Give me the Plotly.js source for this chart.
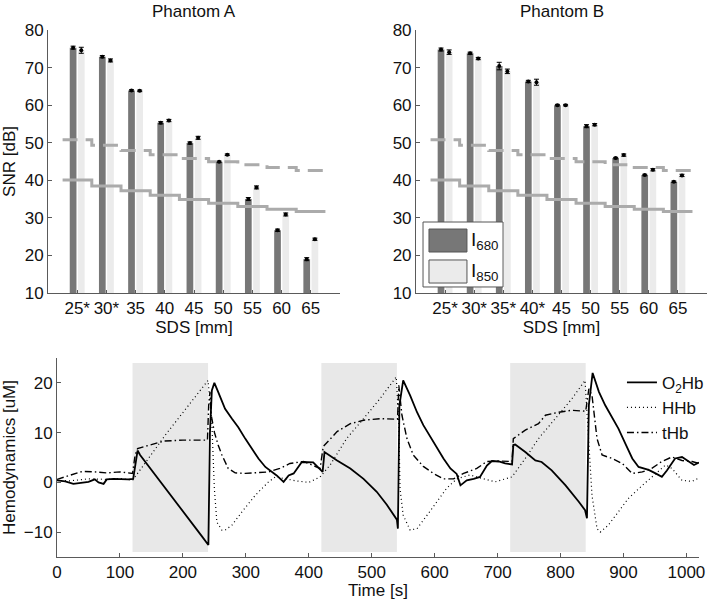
<!DOCTYPE html>
<html>
<head>
<meta charset="utf-8">
<script src="https://cdn.plot.ly/plotly-3.0.1.min.js"></script>
<style>
  html, body { margin: 0; padding: 0; background: #fff; }
  #chart { width: 710px; height: 600px; }
</style>
</head>
<body>
<div id="chart"></div>
<script>
// SNR per source-detector separation
const sdsA = ['25*', '30*', '35', '40', '45', '50', '55', '60', '65'];
const sdsB = ['25*', '30*', '35*', '40*', '45', '50', '55', '60', '65'];

const snrA680 = [75.3, 72.9, 63.9, 55.3, 49.9, 44.9, 35.0, 26.7, 19.0];
const snrA850 = [74.6, 71.9, 63.8, 55.9, 51.3, 46.8, 38.1, 30.9, 24.3];
const errA680 = [0.4, 0.3, 0.2, 0.3, 0.3, 0.2, 0.4, 0.3, 0.4];
const errA850 = [0.8, 0.4, 0.2, 0.3, 0.4, 0.2, 0.4, 0.4, 0.3];

const snrB680 = [74.8, 73.8, 70.4, 66.3, 60.0, 54.4, 45.9, 41.4, 39.6];
const snrB850 = [74.1, 72.4, 69.0, 66.1, 60.0, 54.8, 46.7, 42.8, 41.3];
const errB680 = [0.4, 0.3, 1.0, 0.3, 0.2, 0.4, 0.2, 0.2, 0.2];
const errB850 = [0.6, 0.3, 0.6, 0.8, 0.2, 0.3, 0.3, 0.3, 0.3];

const limitSolid = [40.1, 38.5, 37.2, 36.0, 34.9, 33.9, 33.0, 32.3, 31.7];
const limitDashed = [50.8, 49.3, 47.9, 46.8, 45.8, 44.9, 44.1, 43.4, 42.6];

// hemodynamic time courses
const timeO2 = [0, 13, 26, 39, 50, 60, 66, 74, 79, 90, 103, 113, 121, 124, 128, 132, 160, 182,
    210, 230, 240.5, 243, 246, 250, 256, 267, 278, 288, 299, 309, 320, 331, 341, 349, 360, 368,
    376, 389, 407, 418, 422, 425, 445, 466, 487, 508, 524, 540, 541.6, 544, 550, 561, 572, 582,
    593, 603, 614, 625, 635, 641, 651, 662, 672, 683, 691, 702, 712, 723, 725, 728, 744, 760,
    770, 786, 808, 829, 839, 842, 845, 851, 861, 871, 882, 892, 903, 914, 924, 940, 951, 961,
    969, 982, 993, 1004, 1012, 1020];
const o2hb = [0.4, 0.2, -0.3, 0, 0.1, 0.6, 0, -0.3, 0.6, 0.7, 0.6, 0.6, 0.7, 3.4, 6.4, 5.5, 0.9, -2.9,
    -7.4, -10.8, -12.6, 10, 18.5, 20, 18.2, 14.8, 12.8, 11.1, 8.8, 6.8, 4.8, 3.1, 2.1, 1.4, 0.1, 1.4,
    1.8, 4.1, 4.0, 2.5, 2.1, 6.1, 4.4, 2.8, 0.7, -1.9, -4.5, -7.5, -9.3, 15.5, 20.5, 17.5, 14.1, 11.5,
    9.1, 7.1, 4.8, 2.8, 1.7, -0.6, 0.4, 0.7, 1.1, 3.4, 4.3, 4.2, 3.8, 3.6, 7.5, 7.6, 6.1, 4.4,
    4.1, 2.4, -0.6, -3.9, -5.6, -7.2, 15.5, 22, 18.2, 15.5, 13.1, 10.8, 7.8, 4.8, 3.1, 2.5, 1.8, 1.1,
    2.4, 4.8, 5.1, 4.2, 3.5, 4];

const timeHHb = [0, 20, 50, 80, 100, 120, 172, 209, 240, 246, 250, 254, 262, 267, 278, 294, 315, 336,
    347, 360, 380, 400, 418, 434, 460, 487, 513, 539, 543, 545, 550, 561, 572, 588, 603, 619,
    635, 656, 678, 696, 723, 744, 765, 792, 818, 839, 845, 850, 858, 863, 876, 892, 908, 930,
    951, 967, 977, 993, 1009, 1020];
const hhb = [0.4, 0.3, 0.7, 0.6, 0.8, 0.4, 9.5, 15.5, 20.5, 12, -1.3, -8, -9.6, -9.6, -8.6, -5.9, -2.6, 0.1,
    1.1, 0.8, 0.3, 0.0, 1.1, 3.5, 8.8, 12.8, 16.8, 21.2, 12, -1.3, -6.6, -9.6, -9.3, -6.6, -3.9, -1.2,
    0.7, 1.5, 0.7, 0.1, 1.1, 4.8, 8.8, 12.8, 16.8, 20.5, 8.8, -2.6, -9.3, -10, -8.6, -5.9, -3.2, -0.6,
    1.8, 3.5, 2.8, 0.4, 0.2, 0.9];

const timeTHb = [0, 20, 40, 60, 80, 100, 120, 124, 128, 150, 170, 200, 239, 241, 243, 245, 250, 256,
    262, 272, 283, 299, 320, 336, 354, 370, 392, 418, 423, 445, 466, 487, 513, 541, 543, 548,
    556, 566, 582, 598, 614, 630, 646, 667, 683, 702, 723, 725, 744, 765, 776, 797, 818, 840,
    845, 850, 858, 866, 882, 898, 914, 930, 945, 961, 977, 993, 1009, 1020];
const thb = [0.6, 1.4, 2.2, 2.1, 1.9, 2.1, 1.8, 5.4, 6.8, 7.6, 8.3, 8.5, 8.5, 15.5, 18.2, 13.5, 10.1, 7.5,
    5.5, 2.8, 1.9, 1.8, 1.9, 2.1, 2.8, 3.8, 4.2, 2.8, 7.2, 10.2, 11.8, 12.5, 12.8, 12.7, 19.5, 13.5,
    8.8, 5.5, 3.2, 1.8, 0.7, 0.7, 1.8, 2.8, 4.2, 4.3, 4.2, 8.8, 10.5, 11.8, 13.5, 14.1, 14.5, 14.3,
    18.8, 17.5, 8.8, 5.5, 4.8, 3.8, 1.8, 2.1, 2.8, 4.2, 5.1, 4.4, 4.2, 3.8];

// stimulation blocks
const blockStart = [120, 420, 720];
const blockEnd = [240, 540, 840];

const FONT = 'Liberation Sans, Arial, Helvetica, sans-serif';
const AXIS_COLOR = '#5a5a5a';
const DARK = '#777777';
const LIGHT = '#ebebeb';
const LIMIT = '#ababab';
const BAR_OFFSET = 0.14;
const BAR_WIDTH = 0.23;

const idx = sdsA.map((_, i) => i + 1);
const stepX = idx.map((i) => i - 0.5).concat([idx.length + 0.5]);

function snrTraces(xa, ya, v680, v850, e680, e850) {
    const darkX = idx.map((i) => i - BAR_OFFSET);
    const lightX = idx.map((i) => i + BAR_OFFSET);
    return [
        { type: 'bar', x: darkX, y: v680, width: BAR_WIDTH, marker: { color: DARK }, xaxis: xa, yaxis: ya, showlegend: false, hoverinfo: 'skip' },
        { type: 'bar', x: lightX, y: v850, width: BAR_WIDTH, marker: { color: LIGHT }, xaxis: xa, yaxis: ya, showlegend: false, hoverinfo: 'skip' },
        {
            type: 'scatter', mode: 'lines', x: stepX, y: limitSolid.concat([limitSolid[limitSolid.length - 1]]),
            line: { shape: 'hv', color: LIMIT, width: 3 }, xaxis: xa, yaxis: ya, showlegend: false, hoverinfo: 'skip',
        },
        {
            type: 'scatter', mode: 'lines', x: stepX, y: limitDashed.concat([limitDashed[limitDashed.length - 1]]),
            line: { shape: 'hv', color: LIMIT, width: 3, dash: '15px,8px' }, xaxis: xa, yaxis: ya, showlegend: false, hoverinfo: 'skip',
        },
        {
            type: 'scatter', mode: 'markers', x: darkX, y: v680, marker: { color: '#000', size: 4 },
            error_y: { type: 'data', array: e680, color: '#000', thickness: 1, width: 2.5 },
            xaxis: xa, yaxis: ya, showlegend: false, hoverinfo: 'skip',
        },
        {
            type: 'scatter', mode: 'markers', x: lightX, y: v850, marker: { color: '#000', size: 4 },
            error_y: { type: 'data', array: e850, color: '#000', thickness: 1, width: 2.5 },
            xaxis: xa, yaxis: ya, showlegend: false, hoverinfo: 'skip',
        },
    ];
}

const traces = [
    ...snrTraces('x', 'y', snrA680, snrA850, errA680, errA850),
    ...snrTraces('x2', 'y2', snrB680, snrB850, errB680, errB850),
    {
        type: 'scatter', mode: 'lines', x: timeO2, y: o2hb, name: 'O<sub>2</sub>Hb',
        line: { color: '#000', width: 1.8 }, xaxis: 'x3', yaxis: 'y3',
    },
    {
        type: 'scatter', mode: 'lines', x: timeHHb, y: hhb, name: 'HHb',
        line: { color: '#000', width: 1.2, dash: '1px,3px' }, xaxis: 'x3', yaxis: 'y3',
    },
    {
        type: 'scatter', mode: 'lines', x: timeTHb, y: thb, name: 'tHb',
        line: { color: '#000', width: 1.4, dash: '7px,3px,1.5px,3px' }, xaxis: 'x3', yaxis: 'y3',
    },
];

const baseAxis = {
    showline: true, linecolor: AXIS_COLOR, linewidth: 1,
    ticks: 'inside', ticklen: 4, tickcolor: AXIS_COLOR,
    showgrid: false, zeroline: false,
    tickfont: { family: FONT, size: 17, color: '#111' },
    fixedrange: true,
};

const snrY = { ...baseAxis, range: [10, 80], dtick: 10 };
const sdsX = (labels) => ({
    ...baseAxis, range: [0, 10], tickvals: idx, ticktext: labels, ticklen: 3,
    title: { text: 'SDS [mm]', font: { family: FONT, size: 17, color: '#111' }, standoff: 2 },
});

const shapes = blockStart.map((s, i) => ({
    type: 'rect', xref: 'x3', yref: 'y3', x0: s, x1: blockEnd[i], y0: -14, y1: 24,
    fillcolor: '#e8e8e8', line: { width: 0 }, layer: 'below',
}));

// hand-made legend box for the SNR panels
shapes.push(
    { type: 'rect', xref: 'paper', yref: 'paper', x0: 0.5958, x1: 0.7085, y0: 0.5217, y1: 0.63, fillcolor: '#fff', line: { color: '#555', width: 1 }, layer: 'above' },
    { type: 'rect', xref: 'paper', yref: 'paper', x0: 0.6042, x1: 0.6577, y0: 0.58, y1: 0.6183, fillcolor: DARK, line: { color: '#555', width: 1 }, layer: 'above' },
    { type: 'rect', xref: 'paper', yref: 'paper', x0: 0.6042, x1: 0.6577, y0: 0.5283, y1: 0.5667, fillcolor: LIGHT, line: { color: '#555', width: 1 }, layer: 'above' },
);

const textFont = { family: FONT, size: 17, color: '#111' };

const layout = {
    width: 710,
    height: 600,
    margin: { l: 0, r: 0, t: 0, b: 0 },
    paper_bgcolor: '#fff',
    plot_bgcolor: 'rgba(0,0,0,0)',
    font: textFont,
    barmode: 'overlay',
    xaxis: { ...sdsX(sdsA), domain: [0.0676, 0.4789], anchor: 'y' },
    yaxis: {
        ...snrY, domain: [0.5117, 0.95], anchor: 'x',
        title: { text: 'SNR [dB]', font: textFont, standoff: 4 },
    },
    xaxis2: { ...sdsX(sdsB), domain: [0.5859, 0.9958], anchor: 'y2' },
    yaxis2: { ...snrY, domain: [0.5117, 0.95], anchor: 'x2' },
    xaxis3: {
        ...baseAxis, domain: [0.0803, 0.9845], anchor: 'y3', range: [0, 1020], dtick: 100,
        title: { text: 'Time [s]', font: textFont, standoff: 0 },
    },
    yaxis3: {
        ...baseAxis, domain: [0.0717, 0.4033], anchor: 'x3', range: [-15, 25], tickvals: [-10, 0, 10, 20],
        title: { text: 'Hemodynamics [uM]', font: textFont, standoff: 6 },
    },
    showlegend: true,
    legend: {
        x: 0.876, y: 0.392, xanchor: 'left', yanchor: 'top',
        bgcolor: 'rgba(0,0,0,0)', font: textFont, tracegroupgap: 0,
    },
    shapes,
    annotations: [
        { text: 'Phantom A', xref: 'x domain', yref: 'paper', x: 0.5, y: 1, yanchor: 'top', showarrow: false, font: textFont },
        { text: 'Phantom B', xref: 'x2 domain', yref: 'paper', x: 0.5, y: 1, yanchor: 'top', showarrow: false, font: textFont },
        { text: 'I<sub>680</sub>', xref: 'paper', yref: 'paper', x: 0.661, y: 0.598, xanchor: 'left', yanchor: 'middle', showarrow: false, font: { ...textFont, size: 19 } },
        { text: 'I<sub>850</sub>', xref: 'paper', yref: 'paper', x: 0.661, y: 0.546, xanchor: 'left', yanchor: 'middle', showarrow: false, font: { ...textFont, size: 19 } },
    ],
};

Plotly.newPlot('chart', traces, layout, { displayModeBar: false, staticPlot: true });
</script>
</body>
</html>
